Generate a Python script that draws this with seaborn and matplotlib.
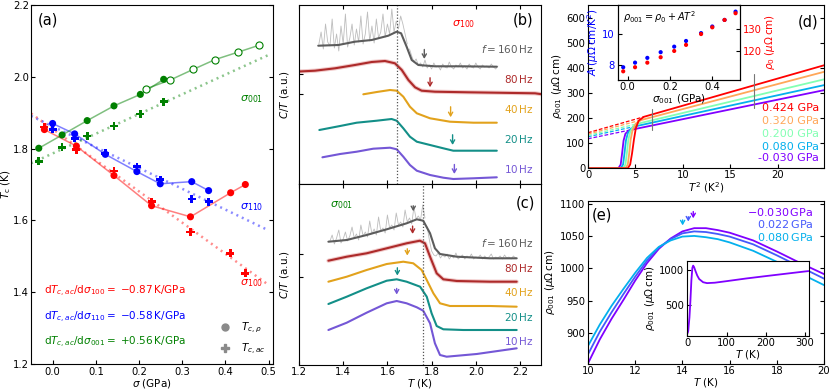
import numpy as np
import matplotlib
matplotlib.use("Agg")
import matplotlib.pyplot as plt
from matplotlib.lines import Line2D
import seaborn as sns

sns.set_theme(style="ticks")
plt.rcParams['font.family'] = ['DejaVu Sans']
plt.rcParams.update({
    'font.size': 7.5, 'axes.labelsize': 7.5, 'xtick.labelsize': 7.2, 'ytick.labelsize': 7.2,
    'xtick.direction': 'in', 'ytick.direction': 'in', 'axes.linewidth': 0.8,
    'xtick.major.size': 3, 'ytick.major.size': 3, 'xtick.major.width': 0.8, 'ytick.major.width': 0.8,
    'mathtext.fontset': 'dejavusans', 'axes.labelpad': 1.0,
    'xtick.major.pad': 2, 'ytick.major.pad': 2, 'axes.edgecolor': 'black',
    'xtick.color': 'black', 'ytick.color': 'black', 'text.color': 'black', 'axes.labelcolor': 'black',
})

# ---------------- panel (a) data ----------------
sig001_rho = [-0.032, 0.022, 0.080, 0.142, 0.203, 0.257]
tc001_rho = [1.801, 1.838, 1.878, 1.919, 1.951, 1.993]
sig001_open = [0.215, 0.272, 0.326, 0.376, 0.430, 0.478]
tc001_open = [1.966, 1.991, 2.021, 2.048, 2.069, 2.088]
sig001_ac = [-0.032, 0.022, 0.080, 0.142, 0.203, 0.257]
tc001_ac = [1.765, 1.804, 1.835, 1.863, 1.896, 1.931]

sig110_rho = [0.0, 0.051, 0.122, 0.195, 0.249, 0.322, 0.361]
tc110_rho = [1.870, 1.841, 1.784, 1.736, 1.702, 1.708, 1.683]
sig110_ac = [0.0, 0.051, 0.122, 0.195, 0.249, 0.322, 0.361]
tc110_ac = [1.854, 1.829, 1.787, 1.750, 1.713, 1.660, 1.652]

sig100_rho = [-0.019, 0.055, 0.142, 0.229, 0.319, 0.412, 0.446]
tc100_rho = [1.853, 1.807, 1.725, 1.641, 1.610, 1.677, 1.700]
sig100_ac = [-0.019, 0.055, 0.142, 0.229, 0.319, 0.411, 0.446]
tc100_ac = [1.860, 1.797, 1.738, 1.652, 1.568, 1.508, 1.453]

fit_x = [-0.05, 0.5]
fit100_y = [1.898, 1.420]
fit110_y = [1.891, 1.572]
fit001_y = [1.759, 2.061]

# ---------------- panel (b) data (arbitrary units) ----------------
b_T160 = [1.287, 1.378, 1.453, 1.529, 1.604, 1.642, 1.662, 1.687, 1.710, 1.740, 1.815, 1.936, 2.095]
b_y160 = [138.3, 139.0, 142.3, 144.0, 148.3, 152.3, 150.7, 137.3, 124.0, 119.0, 117.7, 117.7, 117.3]
b_raw160_a = [140, 152, 135, 160, 142, 138, 165, 136, 150, 133, 158, 140, 170, 137, 146, 160, 139,
              155, 142, 168, 140, 150, 172, 143, 158, 141, 165, 146, 152, 170, 147, 160, 150, 175,
              152, 163, 155, 168, 160, 150, 140]
b_raw160_b = [135, 128, 122, 125, 119, 121, 117, 124, 116, 119, 115, 121, 117, 118, 114, 120, 117,
              116, 122, 117, 115, 119, 117, 121, 116, 118, 115, 120, 117, 116, 121, 117, 115, 119,
              117, 118, 116, 120, 117, 115, 118]
b_T80 = [1.182, 1.272, 1.363, 1.453, 1.529, 1.589, 1.634, 1.665, 1.695, 1.725, 1.755, 1.815, 1.966, 2.268, 2.30]
b_y80 = [112.3, 113.3, 115.7, 119.0, 122.0, 123.0, 120.7, 114.0, 104.0, 96.7, 93.3, 92.3, 91.7, 90.7, 89.7]
b_T40 = [1.491, 1.552, 1.612, 1.642, 1.672, 1.702, 1.733, 1.793, 1.883, 1.989, 2.095]
b_y40 = [89.7, 92.0, 94.0, 93.3, 87.3, 77.3, 70.7, 65.7, 62.3, 61.3, 61.3]
b_T20 = [1.292, 1.386, 1.461, 1.552, 1.619, 1.642, 1.672, 1.702, 1.733, 1.793, 1.853, 1.898, 1.989, 2.095]
b_y20 = [54.0, 58.0, 61.3, 63.3, 65.0, 63.3, 55.7, 47.3, 42.3, 39.0, 35.7, 33.3, 33.3, 33.3]
b_T10 = [1.306, 1.386, 1.461, 1.536, 1.612, 1.642, 1.672, 1.702, 1.733, 1.793, 1.853, 1.898, 1.989, 2.095]
b_y10 = [26.7, 30.0, 32.3, 35.3, 36.3, 34.7, 27.3, 19.0, 13.3, 9.0, 6.3, 5.0, 5.7, 6.7]
b_arrow_T = [1.767, 1.793, 1.886, 1.895, 1.903]
b_arrow_tail = [137.3, 109.0, 80.0, 52.0, 22.3]
b_arrow_tip = [122.3, 94.0, 64.0, 36.3, 7.3]
b_label_y = [134.7, 104.7, 75.0, 45.0, 14.7]
b_vline = 1.645

# ---------------- panel (c) data ----------------
c_T160 = [1.333, 1.416, 1.506, 1.597, 1.687, 1.733, 1.762, 1.793, 1.815, 1.838, 1.914, 2.064, 2.185]
c_y160 = [123.3, 125.0, 130.0, 135.7, 141.7, 145.7, 144.3, 131.7, 116.7, 111.0, 108.3, 106.7, 106.7]
c_raw160_a = [124, 130, 121, 127, 135, 122, 126, 133, 124, 129, 138, 127, 131, 125, 140, 129, 133,
              128, 144, 131, 136, 130, 148, 134, 137, 132, 150, 137, 140, 135, 152, 140, 143, 138,
              155, 143, 147, 141, 158, 146, 149, 145, 160, 147]
c_raw160_b = [138, 125, 114, 110, 109, 112, 107, 110, 108, 111, 106, 109, 107, 112, 106, 108, 110,
              106, 109, 107, 111, 106, 108, 107, 110, 106, 109, 107, 108, 111, 106, 108, 107, 109,
              106, 110, 107, 108, 106, 109, 107]
c_T80 = [1.333, 1.416, 1.506, 1.597, 1.687, 1.747, 1.770, 1.793, 1.823, 1.853, 1.914, 2.064, 2.185]
c_y80 = [104.3, 108.3, 111.7, 116.7, 121.7, 124.3, 121.7, 108.3, 91.7, 85.7, 84.0, 83.3, 83.3]
c_T40 = [1.333, 1.416, 1.506, 1.597, 1.672, 1.717, 1.755, 1.778, 1.808, 1.838, 1.883, 2.064, 2.185]
c_y40 = [83.3, 88.3, 95.0, 101.0, 103.3, 101.7, 95.0, 85.0, 71.7, 61.7, 59.0, 59.0, 58.3]
c_T20 = [1.333, 1.416, 1.506, 1.597, 1.642, 1.687, 1.748, 1.778, 1.800, 1.823, 1.853, 1.943, 2.185]
c_y20 = [61.0, 68.3, 76.7, 84.3, 85.7, 83.3, 78.3, 68.3, 51.7, 39.0, 35.7, 35.0, 35.0]
c_T10 = [1.333, 1.416, 1.506, 1.597, 1.642, 1.687, 1.733, 1.762, 1.793, 1.815, 1.838, 1.868, 2.004, 2.185]
c_y10 = [35.0, 42.3, 52.3, 61.7, 64.0, 61.7, 57.7, 54.3, 41.7, 21.7, 10.0, 8.3, 11.0, 16.7]
c_arrow_T = [1.717, 1.714, 1.690, 1.645, 1.642]
c_arrow_tail = [162.0, 141.7, 119.0, 100.0, 79.3]
c_arrow_tip = [151.0, 128.3, 106.7, 86.7, 67.7]
c_label_y = [121.7, 96.7, 72.7, 48.3, 24.0]
c_vline = 1.761

freq_labels = [r'$f = 160\,$Hz', r'80$\,$Hz', r'40$\,$Hz', r'20$\,$Hz', r'10$\,$Hz']
freq_colors = ['#5c5c5c', '#ad2a2a', '#e2a21c', '#138f88', '#7457d6']

# ---------------- panel (d) data ----------------
d_stress = [-0.030, 0.080, 0.200, 0.320, 0.424]
d_labels = ['-0.030 GPa', '0.080 GPa', '0.200 GPa', '0.320 GPa', '0.424 GPa']
d_T2 = [
    [0, 3.20, 3.45, 3.60, 3.75, 3.95, 4.30, 4.90, 24.9],
    [0, 3.45, 3.70, 3.85, 4.00, 4.20, 4.55, 5.10, 24.9],
    [0, 3.70, 3.95, 4.10, 4.25, 4.45, 4.80, 5.30, 24.9],
    [0, 3.95, 4.20, 4.35, 4.50, 4.70, 5.05, 5.60, 24.9],
    [0, 4.20, 4.45, 4.65, 4.85, 5.05, 5.35, 5.90, 24.9],
]
d_rho = [
    [0, 0, 15, 60, 110, 138, 150, 156, 311],
    [0, 0, 15, 60, 110, 140, 158, 168, 331],
    [0, 0, 15, 60, 112, 145, 168, 178, 354],
    [0, 0, 15, 60, 115, 152, 178, 192, 384],
    [0, 0, 15, 60, 115, 160, 190, 205, 410],
]
d_rho0 = [117.6, 125.6, 131.0, 136.0, 141.6]
d_join_T2 = [4.90, 5.10, 5.30, 5.60, 5.90]
d_join_rho = [156, 168, 178, 192, 205]
d_marks_T2 = [6.7, 17.5]
d_marks_lo = [152, 241]
d_marks_hi = [238, 377]

ins_sigma = [-0.021, 0.035, 0.093, 0.156, 0.220, 0.276, 0.347, 0.400, 0.458, 0.510]
ins_A = [7.85, 8.15, 8.46, 8.83, 9.19, 9.56, 10.07, 10.50, 10.93, 11.47]
ins_rho0 = [110.6, 112.5, 114.6, 117.1, 120.0, 122.8, 127.8, 130.9, 134.3, 137.4]

# ---------------- panel (e) data ----------------
e_stress = [-0.030, 0.022, 0.080]
e_labels = [r'$-$0.030$\,$GPa', r'0.022$\,$GPa', r'0.080$\,$GPa']
e_T = [10, 10.5, 11, 11.5, 12, 12.5, 13, 13.5, 14, 14.5, 15, 15.5, 16, 17, 18, 19, 20]
e_rho = [
    [853, 890, 922, 951, 981, 1008, 1030, 1046, 1057, 1062, 1062, 1059, 1055, 1043, 1026, 1008, 991],
    [867, 902, 932, 960, 987, 1012, 1032, 1045, 1054, 1057, 1056, 1053, 1049, 1037, 1020, 1002, 984],
    [880, 913, 942, 968, 993, 1016, 1033, 1043, 1049, 1050, 1048, 1045, 1040, 1027, 1010, 992, 974],
]
e_arrow_T = [14.46, 14.25, 14.01]
e_arrow_tail = [1092, 1084, 1079]
e_arrow_tip = [1073, 1068, 1062]
ins_e_T = [0.5, 2, 3, 5, 7.5, 10, 12.5, 14.5, 17, 20, 25, 30, 40, 50, 70, 100, 150, 200, 250, 300, 310]
ins_e_rho = [100, 130, 200, 320, 560, 853, 1030, 1062, 1040, 992, 920, 870, 825, 812, 818, 840, 878,
             912, 945, 978, 984]

RED, BLUE, GREEN = '#ff0000', '#0000ff', '#008000'

W, H = 831, 390
fig = plt.figure(figsize=(W / 100, H / 100), dpi=100)


def px_axes(l, t, r, b):
    return fig.add_axes([l / W, 1 - b / H, (r - l) / W, (b - t) / H])


def line(ax, x, y, **kw):
    sns.lineplot(x=list(x), y=list(y), ax=ax, sort=False, estimator=None, **kw)


# ======================= (a) =======================
axa = px_axes(31, 5, 273, 364)
for sx, ty, sx2, ty2, fy, col in [
        (sig100_rho, tc100_rho, sig100_ac, tc100_ac, fit100_y, RED),
        (sig110_rho, tc110_rho, sig110_ac, tc110_ac, fit110_y, BLUE),
        (sig001_rho, tc001_rho, sig001_ac, tc001_ac, fit001_y, GREEN)]:
    line(axa, fit_x, fy, color=col, alpha=0.45, lw=1.8, linestyle=(0, (0.8, 1.6)))
    line(axa, sx, ty, color=col, alpha=0.5, lw=1.1)
    sns.scatterplot(x=sx, y=ty, ax=axa, color=col, marker='o', s=26, edgecolor='none', zorder=3)
    sns.scatterplot(x=sx2, y=ty2, ax=axa, color=col, marker='P', s=34, edgecolor='none', zorder=3)
line(axa, sig001_open, tc001_open, color=GREEN, alpha=0.5, lw=1.1)
axa.scatter(sig001_open, tc001_open, s=26, facecolor='white', edgecolor=GREEN, linewidth=0.8, zorder=3)
axa.set_xlim(-0.05, 0.51)
axa.set_ylim(1.2, 2.2)
axa.set_xticks([0.0, 0.1, 0.2, 0.3, 0.4, 0.5])
axa.set_yticks([1.2, 1.4, 1.6, 1.8, 2.0, 2.2])
axa.tick_params(right=True)
axa.tick_params(axis='y', pad=1.5)
axa.set_xlabel(r'$\sigma$ (GPa)', labelpad=0.5)
axa.set_ylabel(r'$T_{\rm c}$ (K)', labelpad=0)
axa.text(0.028, 0.958, '(a)', transform=axa.transAxes, fontsize=10.5, va='center', ha='left')
axa.text(0.912, 0.738, r'$\sigma_{001}$', transform=axa.transAxes, color=GREEN, fontsize=8, ha='center', va='center')
axa.text(0.913, 0.437, r'$\sigma_{110}$', transform=axa.transAxes, color=BLUE, fontsize=8, ha='center', va='center')
axa.text(0.913, 0.226, r'$\sigma_{100}$', transform=axa.transAxes, color=RED, fontsize=8, ha='center', va='center')
for yy, col, sub, val in [(0.201, RED, '100', r'$-$0.87'), (0.131, BLUE, '110', r'$-$0.58'),
                          (0.059, GREEN, '001', r'$+$0.56')]:
    axa.text(0.054, yy, r'd$T_{c,ac}$/d$\sigma_{' + sub + r'} = $ ' + val + r'$\,$K/GPa',
             transform=axa.transAxes, color=col, fontsize=7.5, va='center', ha='left')
hand = [Line2D([], [], color='#8a8a8a', marker='o', ls='', ms=5),
        Line2D([], [], color='#8a8a8a', marker='P', ls='', ms=6)]
axa.legend(hand, [r'$T_{c,\rho}$', r'$T_{c,ac}$'], loc='lower right', frameon=False,
           fontsize=7.5, handletextpad=0.6, borderaxespad=0.3, labelspacing=0.6,
           bbox_to_anchor=(1.0, 0.0))

# ======================= (b) =======================
axb = px_axes(299, 5, 541, 184)
line(axb, np.linspace(1.29, 1.69, len(b_raw160_a)), b_raw160_a, color='#bdbdbd', lw=0.6)
line(axb, np.linspace(1.70, 2.10, len(b_raw160_b)), b_raw160_b, color='#bdbdbd', lw=0.6)
line(axb, b_T80, b_y80, color='#e08a8a', lw=3.0, alpha=0.45)
for T, y, col in zip([b_T160, b_T80, b_T40, b_T20, b_T10], [b_y160, b_y80, b_y40, b_y20, b_y10], freq_colors):
    line(axb, T, y, color=col, lw=1.5)
axb.axvline(b_vline, color='#555555', lw=0.9, ls=(0, (1, 1.5)))
for T, a0, a1, col in zip(b_arrow_T, b_arrow_tail, b_arrow_tip, freq_colors):
    axb.annotate('', xy=(T, a1), xytext=(T, a0),
                 arrowprops=dict(arrowstyle='->,head_length=0.35,head_width=0.2', color=col, lw=1.0))
for lab, y, col in zip(freq_labels, b_label_y, freq_colors):
    axb.text(2.262, y, lab, color=col, ha='right', va='center', fontsize=7.5)
axb.text(0.927, 0.916, '(b)', transform=axb.transAxes, fontsize=10.5, ha='center', va='center')
axb.text(0.679, 0.894, r'$\sigma_{100}$', transform=axb.transAxes, color=RED, fontsize=8, ha='center', va='center')
axb.set_xlim(1.2, 2.295)
axb.set_ylim(0, 179)
axb.set_xticks([1.2, 1.4, 1.6, 1.8, 2.0, 2.2])
axb.set_xticklabels([])
axb.set_yticks([89.7, 110.0])
axb.set_yticklabels([])
axb.tick_params(top=True)
axb.set_ylabel(r'$C/T$ (a.u.)', labelpad=4)

# ======================= (c) =======================
axc = px_axes(299, 184, 541, 365)
line(axc, np.linspace(1.34, 1.77, len(c_raw160_a)), c_raw160_a, color='#bdbdbd', lw=0.6)
line(axc, np.linspace(1.78, 2.18, len(c_raw160_b)), c_raw160_b, color='#bdbdbd', lw=0.6)
line(axc, c_T80, c_y80, color='#e08a8a', lw=3.0, alpha=0.45)
for T, y, col in zip([c_T160, c_T80, c_T40, c_T20, c_T10], [c_y160, c_y80, c_y40, c_y20, c_y10], freq_colors):
    line(axc, T, y, color=col, lw=1.5)
axc.axvline(c_vline, color='#555555', lw=0.9, ls=(0, (1, 1.5)))
for T, a0, a1, col in zip(c_arrow_T, c_arrow_tail, c_arrow_tip, freq_colors):
    axc.annotate('', xy=(T, a1), xytext=(T, a0),
                 arrowprops=dict(arrowstyle='->,head_length=0.35,head_width=0.2', color=col, lw=1.0))
for lab, y, col in zip(freq_labels, c_label_y, freq_colors):
    axc.text(2.262, y, lab, color=col, ha='right', va='center', fontsize=7.5)
axc.text(0.934, 0.893, '(c)', transform=axc.transAxes, fontsize=10.5, ha='center', va='center')
axc.text(0.176, 0.884, r'$\sigma_{001}$', transform=axc.transAxes, color=GREEN, fontsize=8, ha='center', va='center')
axc.set_xlim(1.2, 2.295)
axc.set_ylim(0, 181)
axc.set_xticks([1.2, 1.4, 1.6, 1.8, 2.0, 2.2])
axc.set_yticks([88.3, 111.0])
axc.set_yticklabels([])
axc.tick_params(top=True)
axc.tick_params(axis='x', pad=1.5)
axc.set_xlabel(r'$T$ (K)', labelpad=0)
axc.set_ylabel(r'$C/T$ (a.u.)', labelpad=4)

# ======================= (d) =======================
cmap = plt.get_cmap('rainbow')
smin, smax = min(d_stress), max(d_stress)
axd = px_axes(588, 5, 824, 168.3)
for i, s in enumerate(d_stress):
    col = cmap((s - smin) / (smax - smin))
    line(axd, [0, d_join_T2[i]], [d_rho0[i], d_join_rho[i]], color=col, lw=0.9, linestyle=(0, (3, 1.5)))
    line(axd, d_T2[i], d_rho[i], color=col, lw=1.3)
for x, lo, hi in zip(d_marks_T2, d_marks_lo, d_marks_hi):
    axd.plot([x, x], [lo, hi], color='#777777', lw=0.8)
for i, (s, lab) in enumerate(zip(d_stress, d_labels)):
    col = cmap((s - smin) / (smax - smin))
    axd.text(0.979, [0.061, 0.132, 0.208, 0.291, 0.367][i], lab, color=col, transform=axd.transAxes,
             ha='right', va='center', fontsize=8)
axd.text(0.933, 0.894, '(d)', transform=axd.transAxes, fontsize=10.5, ha='center', va='center')
axd.set_xlim(0, 24.9)
axd.set_ylim(0, 650)
axd.set_xticks([0, 5, 10, 15, 20])
axd.set_yticks([0, 100, 200, 300, 400, 500, 600])
axd.tick_params(right=True)
axd.tick_params(axis='x', pad=1.5)
axd.set_xlabel(r'$T^2$ (K$^2$)', labelpad=0)
axd.set_ylabel(r'$\rho_{001}$ ($\mu\Omega\,$cm)', labelpad=2)

axi = px_axes(617.7, 5, 740, 80)
sns.scatterplot(x=ins_sigma, y=ins_A, ax=axi, color=BLUE, s=9, edgecolor='none', zorder=3)
axi2 = axi.twinx()
sns.scatterplot(x=ins_sigma, y=ins_rho0, ax=axi2, color=RED, s=9, edgecolor='none', zorder=3)
axi.set_xlim(-0.047, 0.531)
axi.set_ylim(7.02, 11.9)
axi2.set_ylim(106.6, 141.2)
axi.set_xticks([0.0, 0.2, 0.4])
axi.set_yticks([8, 10])
axi2.set_yticks([120, 130])
axi.tick_params(axis='y', colors=BLUE, labelsize=7.2)
axi.tick_params(axis='x', labelsize=7.2, pad=1.5)
axi2.tick_params(axis='y', colors=RED, labelsize=7.2, direction='in')
for sp in ['left', 'right', 'top', 'bottom']:
    axi2.spines[sp].set_color('black')
    axi.spines[sp].set_color('black')
axi.tick_params(axis='y', color='black')
axi2.tick_params(axis='y', color='black')
axi.set_xlabel(r'$\sigma_{001}$ (GPa)', labelpad=0)
axi.set_ylabel(r'$A$ ($\mu\Omega\,$cm/K$^2$)', color=BLUE, labelpad=1)
axi2.set_ylabel(r'$\rho_0$ ($\mu\Omega\,$cm)', color=RED, labelpad=1)
axi.text(0.346, 0.844, r'$\rho_{001} = \rho_0 + AT^2$', transform=axi.transAxes, ha='center', va='center', fontsize=7)
axi.set_facecolor('white')

# ======================= (e) =======================
axe = px_axes(588, 201, 824, 364)
for i, s in enumerate(e_stress):
    col = cmap((s - smin) / (smax - smin))
    line(axe, e_T, e_rho[i], color=col, lw=1.3)
    axe.annotate('', xy=(e_arrow_T[i], e_arrow_tip[i]), xytext=(e_arrow_T[i], e_arrow_tail[i]),
                 arrowprops=dict(arrowstyle='->,head_length=0.35,head_width=0.2', color=col, lw=1.0))
    axe.text(0.955, [0.934, 0.859, 0.777][i], e_labels[i], color=col, transform=axe.transAxes,
             ha='right', va='center', fontsize=8)
axe.text(0.016, 0.914, '(e)', transform=axe.transAxes, fontsize=10.5, ha='left', va='center')
axe.set_xlim(10, 20)
axe.set_ylim(852, 1104)
axe.set_xticks([10, 12, 14, 16, 18, 20])
axe.set_yticks([900, 950, 1000, 1050, 1100])
axe.tick_params(right=True)
axe.tick_params(axis='x', pad=1.5)
axe.set_xlabel(r'$T$ (K)', labelpad=0)
axe.set_ylabel(r'$\rho_{001}$ ($\mu\Omega\,$cm)', labelpad=2)

axie = px_axes(686.7, 261, 809.3, 335.7)
line(axie, ins_e_T, ins_e_rho, color=cmap(0.0), lw=1.3)
axie.set_xlim(-2, 312)
axie.set_ylim(61, 1128)
axie.set_xticks([0, 100, 200, 300])
axie.set_yticks([500, 1000])
axie.tick_params(axis='x', pad=1.5)
axie.set_xlabel(r'$T$ (K)', labelpad=0)
axie.set_ylabel(r'$\rho_{001}$ ($\mu\Omega\,$cm)', labelpad=1)
axie.set_facecolor('white')

fig.savefig('out.png', dpi=100)
